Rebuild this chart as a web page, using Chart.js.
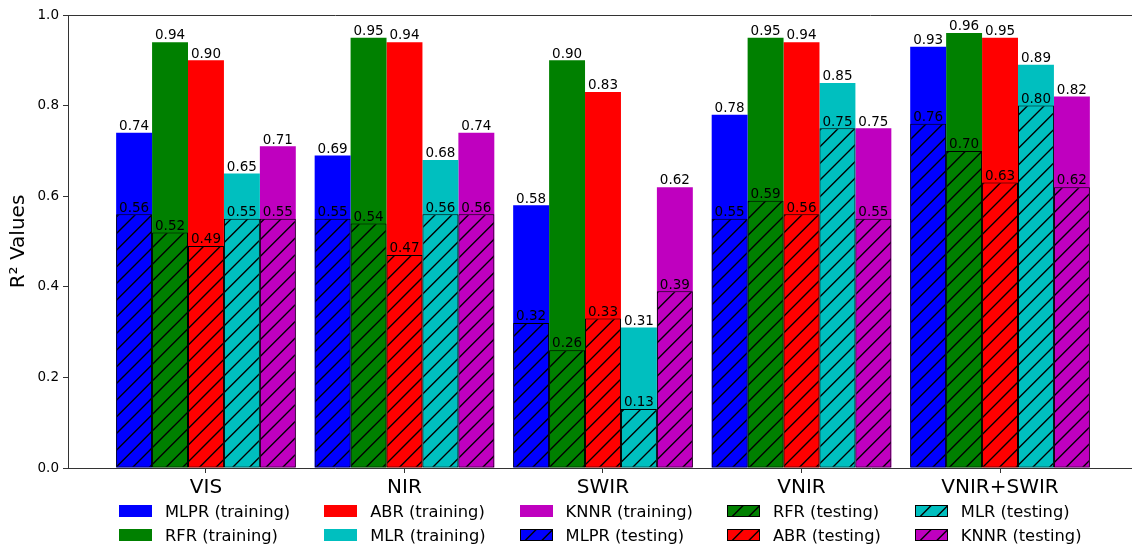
<!DOCTYPE html>
<html>
<head>
<meta charset="utf-8">
<script src="https://cdn.jsdelivr.net/npm/chart.js@4.4.0/dist/chart.umd.min.js"></script>
<style>
  html, body { margin: 0; padding: 0; background: #fff; overflow: hidden; }
  #wrap { position: relative; width: 1132px; height: 549px; overflow: hidden; }
  #chart { position: absolute; left: 0; top: 0; }
  #legend {
    position: absolute; left: 119px; top: 499px;
    display: grid; grid-auto-flow: column; grid-template-rows: 24px 24px;
    column-gap: 34px;
    font-family: "DejaVu Sans", sans-serif; font-size: 16.3px; color: #000;
  }
  .item { display: flex; align-items: center; white-space: nowrap; height: 24px; }
  .item canvas { margin-right: 13px; }
</style>
</head>
<body>
<div id="wrap">
  <canvas id="chart" width="1145" height="549"></canvas>
  <div id="legend"></div>
</div>
<script>
const categories = ['VIS', 'NIR', 'SWIR', 'VNIR', 'VNIR+SWIR'];
const models = ['MLPR', 'RFR', 'ABR', 'MLR', 'KNNR'];
const colors = ['#0000ff', '#008000', '#ff0000', '#00bfbf', '#bf00bf'];

// R² on the training set
const mlprTrain = [0.74, 0.69, 0.58, 0.78, 0.93];
const rfrTrain  = [0.94, 0.95, 0.90, 0.95, 0.96];
const abrTrain  = [0.90, 0.94, 0.83, 0.94, 0.95];
const mlrTrain  = [0.65, 0.68, 0.31, 0.85, 0.89];
const knnrTrain = [0.71, 0.74, 0.62, 0.75, 0.82];

// R² on the testing set
const mlprTest = [0.56, 0.55, 0.32, 0.55, 0.76];
const rfrTest  = [0.52, 0.54, 0.26, 0.59, 0.70];
const abrTest  = [0.49, 0.47, 0.33, 0.56, 0.63];
const mlrTest  = [0.55, 0.56, 0.13, 0.75, 0.80];
const knnrTest = [0.55, 0.56, 0.39, 0.55, 0.62];

const yTicks = [0, 0.2, 0.4, 0.6, 0.8, 1.0];

const trainSets = [mlprTrain, rfrTrain, abrTrain, mlrTrain, knnrTrain];
const testSets = [mlprTest, rfrTest, abrTest, mlrTest, knnrTest];

Chart.defaults.font.family = '"DejaVu Sans", sans-serif';

// "/" hatch like matplotlib
function hatch(color) {
  const c = document.createElement('canvas');
  c.width = c.height = 50;
  const g = c.getContext('2d');
  g.fillStyle = color;
  g.fillRect(0, 0, 50, 50);
  g.strokeStyle = '#000';
  g.lineWidth = 1.4;
  g.beginPath();
  for (let k = -2; k <= 8; k++) {
    const cc = k * 50 / 3;
    g.moveTo(cc - 60, 60);
    g.lineTo(cc + 10, -10);
  }
  g.stroke();
  return g.createPattern(c, 'repeat');
}

const datasets = [];
models.forEach((m, i) => {
  datasets.push({
    label: m + ' (training)',
    data: trainSets[i].map((v, j) => ({ x: j, y: v })),
    backgroundColor: colors[i],
    borderWidth: 0,
    stack: m,
    order: 1
  });
});
models.forEach((m, i) => {
  datasets.push({
    label: m + ' (testing)',
    data: testSets[i].map((v, j) => ({ x: j, y: v })),
    backgroundColor: hatch(colors[i]),
    borderColor: '#000',
    borderWidth: 1,
    borderSkipped: false,
    stack: m,
    order: 0,
    hatched: true
  });
});

const valueLabels = {
  id: 'valueLabels',
  afterDatasetsDraw(chart) {
    const ctx = chart.ctx;
    ctx.save();
    ctx.font = '13.5px "DejaVu Sans"';
    ctx.fillStyle = '#000';
    ctx.textAlign = 'center';
    ctx.textBaseline = 'bottom';
    chart.data.datasets.forEach((ds, di) => {
      chart.getDatasetMeta(di).data.forEach((el, k) => {
        ctx.fillText(ds.data[k].y.toFixed(2), el.x, el.y + 0.5);
      });
    });
    ctx.restore();
  }
};

const topFrame = {
  id: 'topFrame',
  afterDraw(chart) {
    const { ctx, chartArea } = chart;
    ctx.save();
    ctx.strokeStyle = '#333';
    ctx.lineWidth = 1;
    ctx.beginPath();
    ctx.moveTo(chartArea.left, Math.round(chartArea.top) + 0.5);
    ctx.lineTo(chartArea.right, Math.round(chartArea.top) + 0.5);
    ctx.stroke();
    ctx.restore();
  }
};

new Chart(document.getElementById('chart'), {
  type: 'bar',
  data: { datasets },
  options: {
    responsive: false,
    animation: false,
    layout: { padding: { top: 15, right: 7, left: 0, bottom: 0 } },
    plugins: { legend: { display: false }, tooltip: { enabled: false } },
    datasets: { bar: { categoryPercentage: 0.905, barPercentage: 1.0 } },
    scales: {
      x: {
        type: 'linear',
        min: -0.695,
        max: 4.695,
        stacked: true,
        offset: false,
        afterBuildTicks: s => { s.ticks = categories.map((_, i) => ({ value: i })); },
        afterFit: s => { s.height = 81; },
        ticks: {
          callback: v => categories[v],
          font: { size: 20 },
          color: '#000',
          padding: 3,
          maxRotation: 0,
          autoSkip: false
        },
        grid: { display: true, offset: false, drawOnChartArea: false, drawTicks: true, tickLength: 5, color: '#333' },
        border: { display: true, color: '#333', width: 1 }
      },
      y: {
        min: 0,
        max: 1,
        stacked: false,
        afterBuildTicks: s => { s.ticks = yTicks.map(v => ({ value: v })); },
        afterFit: s => { s.width = 68; },
        ticks: {
          callback: v => v.toFixed(1),
          font: { size: 13.5 },
          color: '#000',
          padding: 4
        },
        grid: { display: true, drawOnChartArea: false, drawTicks: true, tickLength: 5, color: '#333' },
        border: { display: true, color: '#333', width: 1 },
        title: {
          display: true,
          text: 'R² Values',
          font: { size: 20 },
          color: '#000',
          padding: { top: 6.5, bottom: 0 }
        }
      }
    }
  },
  plugins: [valueLabels, topFrame]
});

// legend, column-major like matplotlib ncol=5
const legend = document.getElementById('legend');
datasets.forEach(ds => {
  const item = document.createElement('div');
  item.className = 'item';
  const sw = document.createElement('canvas');
  sw.width = 33; sw.height = 12;
  const g = sw.getContext('2d');
  g.fillStyle = ds.backgroundColor;
  g.fillRect(0, 0, 33, 12);
  if (ds.hatched) {
    g.strokeStyle = '#000';
    g.lineWidth = 1;
    g.strokeRect(0.5, 0.5, 32, 11);
  }
  item.appendChild(sw);
  const t = document.createElement('span');
  t.textContent = ds.label;
  item.appendChild(t);
  legend.appendChild(item);
});
</script>
</body>
</html>
